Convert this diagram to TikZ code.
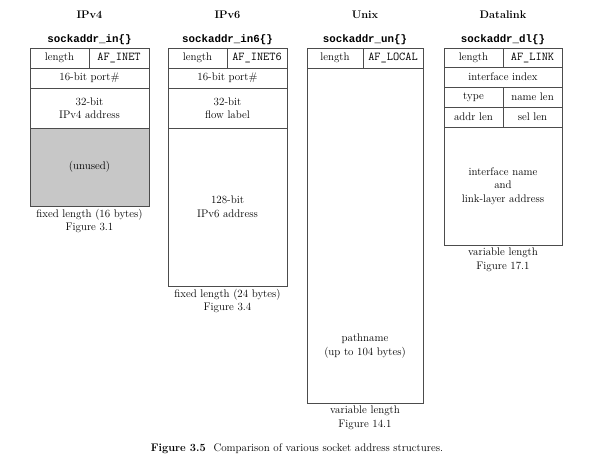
\documentclass[tikz,border=0pt]{standalone}
\usepackage{fontspec}
\newfontfamily\snmono{Liberation Mono}
\definecolor{linec}{gray}{0.3}
\definecolor{unusedc}{gray}{0.78}
\newcommand{\bodyfont}{\fontsize{11}{13.5}\selectfont}
\newcommand{\afmonofont}{\fontsize{12}{13}\selectfont\ttfamily}
\newcommand{\snfont}{\fontsize{10.8}{12}\selectfont\snmono\bfseries}
\begin{document}
\begin{tikzpicture}[x=1pt,y=-1pt,
  cell/.style={draw=linec, line width=0.6pt, inner sep=0pt, align=center, font=\bodyfont},
  mcell/.style={cell, font=\afmonofont},
  title/.style={font=\bodyfont\bfseries, inner sep=0pt},
  sname/.style={font=\snfont, inner sep=0pt},
  note/.style={font=\bodyfont, align=center, inner sep=0pt, anchor=north},
  txt/.style={font=\bodyfont, align=center, inner sep=0pt}]
\useasboundingbox (0,0) rectangle (615,471);
% ---------- IPv4 ----------
\node[title] (t4) at (89.5,15) {IPv4};
\node[sname] (s4) at (89.5,40) {sockaddr\_in\{\}};
\node[cell, minimum width=59, minimum height=20] (v4len) at (59.5,58) {length};
\node[mcell, minimum width=60, minimum height=20] (v4fam) at (119,58) {AF\_INET};
\node[cell, minimum width=119, minimum height=20] (v4port) at (89.5,78) {16-bit port\#};
\node[cell, minimum width=119, minimum height=40] (v4addr) at (89.5,108) {32-bit\\IPv4 address};
\node[cell, fill=unusedc, minimum width=119, minimum height=78] (v4unused) at (89.5,167) {(unused)};
\node[note] (n4) at (89.5,209) {fixed length (16 bytes)\\Figure 3.1};
% ---------- IPv6 ----------
\node[title] (t6) at (227.5,15) {IPv6};
\node[sname] (s6) at (227.5,40) {sockaddr\_in6\{\}};
\node[cell, minimum width=59, minimum height=20] (v6len) at (197.5,58) {length};
\node[mcell, minimum width=60, minimum height=20] (v6fam) at (257,58) {AF\_INET6};
\node[cell, minimum width=119, minimum height=20] (v6port) at (227.5,78) {16-bit port\#};
\node[cell, minimum width=119, minimum height=40] (v6flow) at (227.5,108) {32-bit\\flow label};
\node[cell, minimum width=119, minimum height=158] (v6addr) at (227.5,207) {128-bit\\IPv6 address};
\node[note] (n6) at (227.5,289) {fixed length (24 bytes)\\Figure 3.4};
% ---------- Unix ----------
\node[title] (tu) at (365,15) {Unix};
\node[sname] (su) at (365,40) {sockaddr\_un\{\}};
\node[cell, minimum width=56, minimum height=20] (unlen) at (335,58) {length};
\node[mcell, minimum width=60, minimum height=20] (unfam) at (393,58) {AF\_LOCAL};
\node[cell, minimum width=116, minimum height=335] (unpath) at (365,235.5) {};
\node[txt] (unpathtxt) at (365,346) {pathname\\(up to 104 bytes)};
\node[note] (nu) at (365,406) {variable length\\Figure 14.1};
% ---------- Datalink ----------
\node[title] (td) at (503,15) {Datalink};
\node[sname] (sd) at (503,40) {sockaddr\_dl\{\}};
\node[cell, minimum width=59, minimum height=19] (dllen) at (473.5,57.5) {length};
\node[mcell, minimum width=59, minimum height=19] (dlfam) at (532.5,57.5) {AF\_LINK};
\node[cell, minimum width=118, minimum height=20] (dlidx) at (503,77) {interface index};
\node[cell, minimum width=59, minimum height=20] (dltype) at (473.5,97) {type};
\node[cell, minimum width=59, minimum height=20] (dlnlen) at (532.5,97) {name len};
\node[cell, minimum width=59, minimum height=20] (dlalen) at (473.5,117) {addr len};
\node[cell, minimum width=59, minimum height=20] (dlslen) at (532.5,117) {sel len};
\node[cell, minimum width=118, minimum height=118] (dlname) at (503,186) {interface name\\and\\link-layer address};
\node[note] (nd) at (503,248) {variable length\\Figure 17.1};
% ---------- caption ----------
\node[font=\fontsize{11}{13}\selectfont, inner sep=0pt] (cap) at (297,449)
  {\textbf{Figure 3.5}\hspace{0.7em}Comparison of various socket address structures.};
\end{tikzpicture}
\end{document}
